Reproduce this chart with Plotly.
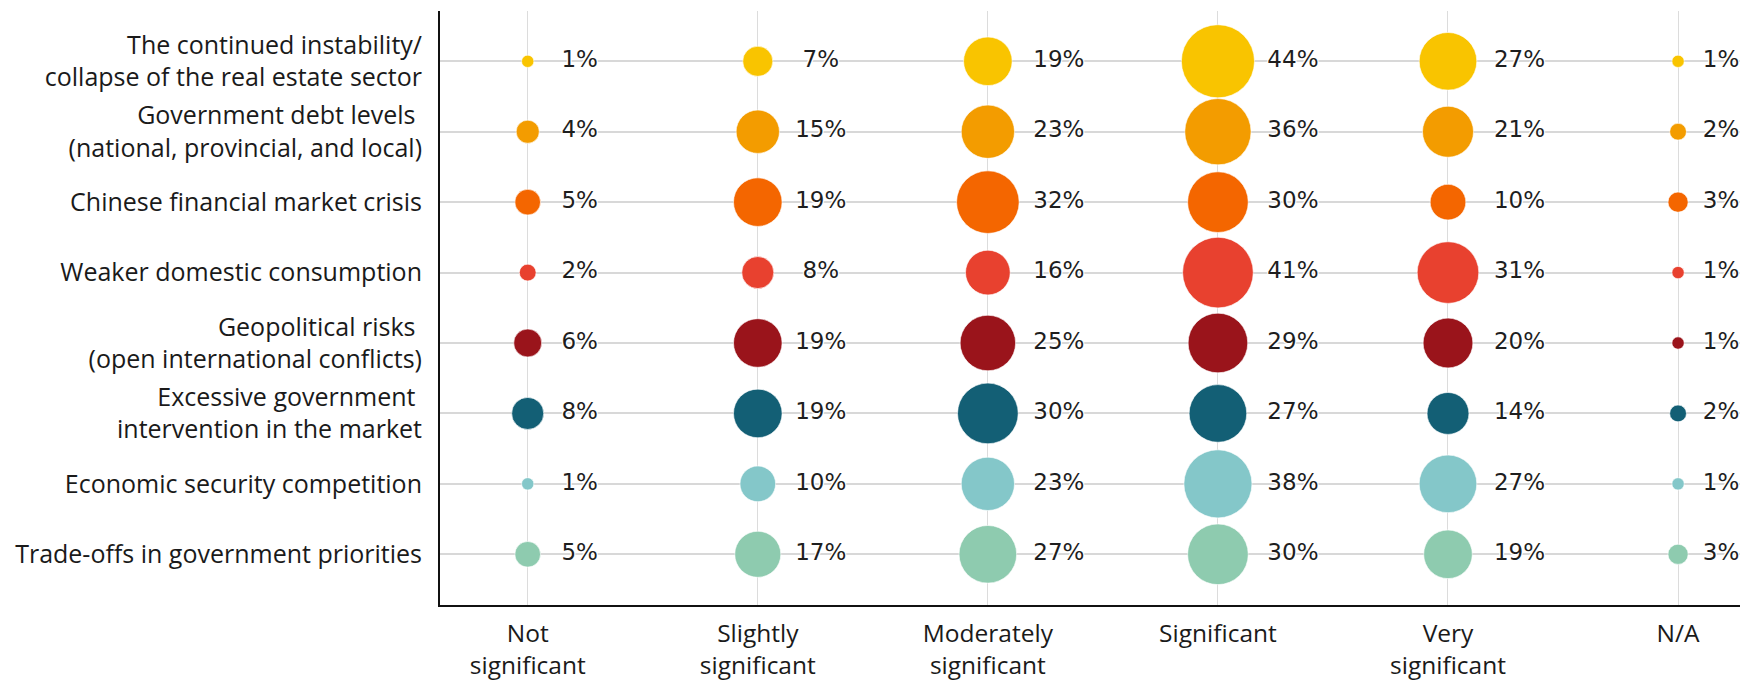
import plotly.graph_objects as go
import math

# ---- data ----
risks = [
    "The continued instability/<br>collapse of the real estate sector",
    "Government debt levels\u00a0<br>(national, provincial, and local)",
    "Chinese financial market crisis",
    "Weaker domestic consumption",
    "Geopolitical risks\u00a0<br>(open international conflicts)",
    "Excessive government\u00a0<br>intervention in the market",
    "Economic security competition",
    "Trade-offs in government priorities",
]
levels = [
    "Not<br>significant",
    "Slightly<br>significant",
    "Moderately<br>significant",
    "Significant",
    "Very<br>significant",
    "N/A",
]
real_estate = [1, 7, 19, 44, 27, 1]
gov_debt = [4, 15, 23, 36, 21, 2]
financial_crisis = [5, 19, 32, 30, 10, 3]
consumption = [2, 8, 16, 41, 31, 1]
geopolitical = [6, 19, 25, 29, 20, 1]
intervention = [8, 19, 30, 27, 14, 2]
econ_security = [1, 10, 23, 38, 27, 1]
trade_offs = [5, 17, 27, 30, 19, 3]
series = [real_estate, gov_debt, financial_crisis, consumption,
          geopolitical, intervention, econ_security, trade_offs]

# ---- styles ----
colors = ["#F9C400", "#F39C00", "#F46600", "#E8412F",
          "#9A141B", "#135F75", "#84C7C9", "#8ECBAF"]
label_offset_px = [52, 63, 71, 75, 71.5, 43]  # label centre offset right of each column

# page body has an 8px default margin; compensate so the figure fills the window
W, H = 1740, 673
ML, MR, MT, MB = 432, 0, 3, 74
x_range = [-0.3813, 5.304]
y_range = [7.72, -0.714]
px_per_x = (W - ML - MR) / (x_range[1] - x_range[0])


def diam(v):
    return 10.8 * math.sqrt(v) + 1.5


fig = go.Figure()
for i, vals in enumerate(series):
    xs = list(range(len(levels)))
    ys = [i] * len(levels)
    fig.add_trace(go.Scatter(
        x=xs, y=ys, mode="markers",
        marker=dict(size=[diam(v) for v in vals], sizemode="diameter",
                    color=colors[i],
                    line=dict(width=1, color="rgba(255,255,255,0.6)"),
                    opacity=1),
        hoverinfo="skip", showlegend=False, cliponaxis=False,
    ))
    fig.add_trace(go.Scatter(
        x=[c + label_offset_px[c] / px_per_x for c in xs], y=ys,
        mode="text", text=[f"{v}%" for v in vals],
        textposition="middle center",
        textfont=dict(family="DejaVu Sans", size=23, color="#1e1e1e",
                      shadow="-1px -1px 0 #fff, 1px -1px 0 #fff, -1px 1px 0 #fff, 1px 1px 0 #fff, 0 0 2px #fff"),
        hoverinfo="skip", showlegend=False, cliponaxis=False,
    ))

fig.update_layout(
    width=W, height=H,
    margin=dict(l=ML, r=MR, t=MT, b=MB, pad=0),
    paper_bgcolor="white", plot_bgcolor="white",
    font=dict(family="Open Sans", color="#1a1a1a"),
)
fig.update_xaxes(
    range=x_range, tickmode="array", tickvals=list(range(len(levels))), ticktext=levels,
    showgrid=True, gridcolor="#dcdcdc", gridwidth=1,
    showline=True, linecolor="#111111", linewidth=2,
    zeroline=False, ticks="", ticklabelstandoff=6,
    tickfont=dict(family="Open Sans", size=24.5, color="#1a1a1a"),
)
fig.update_yaxes(
    range=y_range, tickmode="array", tickvals=list(range(len(risks))), ticktext=risks,
    showgrid=True, gridcolor="#d8d8d8", gridwidth=2,
    showline=True, linecolor="#111111", linewidth=2,
    zeroline=False, ticks="", ticklabelstandoff=11,
    tickfont=dict(family="Open Sans", size=25, color="#1a1a1a"),
)

fig.write_html("out.html")
